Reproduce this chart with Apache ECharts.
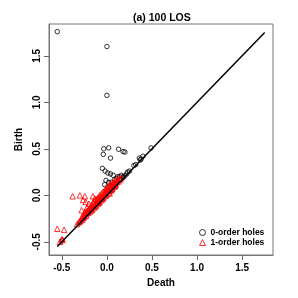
<!DOCTYPE html>
<html><head><meta charset="utf-8">
<script src="https://cdn.jsdelivr.net/npm/echarts@6/dist/echarts.min.js"></script>
<style>html,body{margin:0;padding:0;background:#fff}#c{width:298px;height:298px}</style>
</head><body><div id="c"></div>
<script>
var titleText = "(a) 100 LOS";
var xName = "Death";
var yName = "Birth";
var tickValues = [-0.5, 0, 0.5, 1.0, 1.5];
var tickLabels = ["-0.5", "0.0", "0.5", "1.0", "1.5"];
var seriesNames = ["0-order holes", "1-order holes"];
var diagRange = [-0.55, 1.75];
// 0-order holes: [death, birth]
var holes0 = [
  [-0.55,1.76],[0.0,1.60],[0.0,1.075],[-0.035,0.50],[0.02,0.51],[-0.04,0.44],[0.04,0.40],
  [0.13,0.495],[0.18,0.47],[0.20,0.465],[0.49,0.51],[0.40,0.42],[0.38,0.39],[0.36,0.40],
  [0.37,0.38],[0.32,0.33],[0.30,0.32],[0.23,0.25],[0.25,0.26],
  [-0.05,0.29],[-0.02,0.26],[0.01,0.24],[0.04,0.23],[0.07,0.215],[0.12,0.20],[0.16,0.215],
  [0.14,0.20],[0.18,0.20],[-0.01,0.16],[0.02,0.14],[0.05,0.14],[0.085,0.17],[0.11,0.18],
  [-0.025,0.115],[0.01,0.09],[0.04,0.08],[0.07,0.115],[0.14,0.16],[0.18,0.19],[0.20,0.21],
  [0.22,0.23],[0.0,0.05],[0.03,0.04],[-0.05,-0.03],[-0.1,-0.08],[-0.2,-0.19],[-0.3,-0.29],
  [-0.5,-0.49],[0.10,0.12],[0.06,0.06]
];
// 1-order holes: [death, birth]
var holes1 = [
  [-0.55,-0.36],[-0.475,-0.37],[-0.50,-0.47],[-0.52,-0.50],[-0.49,-0.48],
  [-0.38,-0.01],[-0.30,0.0],[-0.245,-0.01],[-0.265,-0.05],[-0.235,-0.07],[-0.155,-0.01],
  [-0.135,-0.035],[-0.09,-0.02],[-0.06,-0.015],[-0.28,-0.16],[-0.17,-0.11],[-0.20,-0.09],
  [-0.22,-0.13],[-0.25,-0.19],
  [-0.30,-0.28],[-0.28,-0.25],[-0.27,-0.22],[-0.26,-0.24],[-0.25,-0.21],[-0.24,-0.18],
  [-0.23,-0.22],[-0.22,-0.17],[-0.21,-0.19],[-0.20,-0.15],[-0.19,-0.18],[-0.18,-0.12],
  [-0.18,-0.16],[-0.17,-0.14],[-0.16,-0.09],[-0.16,-0.15],[-0.15,-0.12],[-0.14,-0.06],
  [-0.14,-0.13],[-0.13,-0.10],[-0.12,-0.04],[-0.12,-0.11],[-0.11,-0.08],[-0.10,-0.03],
  [-0.10,-0.09],[-0.09,-0.06],[-0.08,0.0],[-0.08,-0.07],[-0.07,-0.04],[-0.06,0.02],
  [-0.06,-0.05],[-0.05,-0.02],[-0.04,0.04],[-0.04,-0.03],[-0.03,0.01],[-0.02,0.06],
  [-0.02,-0.01],[-0.01,0.03],[0.0,0.08],[0.0,0.01],[0.01,0.05],[0.02,0.10],[0.02,0.03],
  [0.03,0.07],[0.04,0.12],[0.04,0.05],[0.05,0.09],[0.06,0.13],[0.06,0.07],[0.07,0.10],
  [0.08,0.15],[0.08,0.09],[0.09,0.12],[0.10,0.16],[0.10,0.11],[0.11,0.14],[0.12,0.17],
  [0.13,0.15],[0.14,0.18],[0.15,0.17],[0.16,0.19],[-0.33,-0.31],[-0.31,-0.29],[-0.29,-0.27],
  [-0.27,-0.26],[-0.25,-0.23],[-0.23,-0.20],[-0.21,-0.16],[-0.19,-0.14],[-0.17,-0.16],
  [-0.15,-0.08],[-0.13,-0.12],[-0.11,-0.05],[-0.09,-0.08],[-0.07,-0.01],[-0.05,-0.04],
  [-0.03,0.03],[-0.01,0.0],[0.01,0.07],[0.03,0.02],[0.05,0.06],[0.07,0.13],[0.09,0.10]
];

var axMin = -0.642, axMax = 1.842;
var font = "'Liberation Sans', Arial, sans-serif";
var chart = echarts.init(document.getElementById('c'), null, {renderer: 'canvas'});
function axisCommon(isY) {
  return {
    type: 'value', min: axMin, max: axMax,
    splitLine: {show: false},
    axisLine: {show: true, onZero: false, lineStyle: {color: '#777', width: 1}},
    axisTick: {show: true, inside: false, length: 5, customValues: tickValues,
      lineStyle: {color: '#666', width: 1}},
    axisLabel: {show: true, customValues: tickValues, margin: isY ? 7 : 8,
      rotate: isY ? 90 : 0,
      fontFamily: font, fontWeight: 'bold', fontSize: 10, color: '#000',
      formatter: function (v) {
        for (var i = 0; i < tickValues.length; i++) {
          if (Math.abs(tickValues[i] - v) < 1e-9) return tickLabels[i];
        }
        return '';
      }},
    nameLocation: 'middle',
    nameTextStyle: {fontFamily: font, fontWeight: 'bold', fontSize: 10, color: '#000'}
  };
}
var xa = axisCommon(false); xa.name = xName; xa.nameGap = 23;
var ya = axisCommon(true); ya.name = yName; ya.nameGap = 23; ya.nameRotate = 90;

chart.setOption({
  animation: false,
  title: {text: titleText, left: 133, top: 12.5, padding: 0,
    textStyle: {fontFamily: font, fontWeight: 'bold', fontSize: 10.5, color: '#000'}},
  grid: {left: 49, top: 24, right: 25, bottom: 43, show: true, borderColor: '#777',
    borderWidth: 1, backgroundColor: 'transparent'},
  xAxis: xa,
  yAxis: ya,
  legend: {
    orient: 'vertical', left: 199, top: 228, padding: 0, itemWidth: 6, itemHeight: 6, itemGap: 1,
    textStyle: {fontFamily: font, fontWeight: 'bold', fontSize: 8.5, color: '#000'},
    data: [
      {name: seriesNames[0], icon: 'circle', itemStyle: {color: 'rgba(0,0,0,0)', borderColor: '#000', borderWidth: 1}},
      {name: seriesNames[1], icon: 'triangle', itemStyle: {color: 'rgba(0,0,0,0)', borderColor: '#f00', borderWidth: 1}}
    ]
  },
  series: [
    {name: seriesNames[0], type: 'scatter', data: holes0, symbol: 'circle', symbolSize: 4.5,
      itemStyle: {color: 'rgba(0,0,0,0)', borderColor: '#000', borderWidth: 1}, z: 2},
    {name: seriesNames[1], type: 'scatter', data: holes1, symbol: 'triangle', symbolSize: 5.5,
      itemStyle: {color: 'rgba(0,0,0,0)', borderColor: '#f00', borderWidth: 1}, z: 3},
    {name: 'diag', type: 'line', data: [[diagRange[0], diagRange[0]], [diagRange[1], diagRange[1]]],
      symbol: 'none', lineStyle: {color: '#000', width: 1.5}, z: 4, silent: true}
  ]
});
</script></body></html>
